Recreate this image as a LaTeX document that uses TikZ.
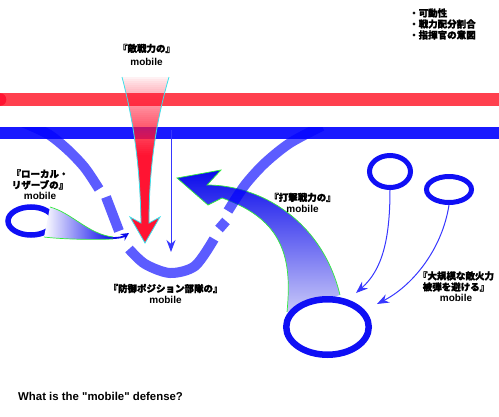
\documentclass[tikz,border=0pt]{standalone}
\usepackage{fontspec}
\setmainfont{Liberation Sans}[Ligatures=TeXOff]
\newfontfamily\jp{Noto Sans CJK JP}[FakeBold=1.6]
\usetikzlibrary{arrows.meta,shapes.geometric}
\definecolor{bandred}{RGB}{255,64,78}
\definecolor{bandblue}{RGB}{25,25,255}
\definecolor{ringblue}{RGB}{15,15,245}
\definecolor{fred}{RGB}{255,20,50}
\definecolor{edgecyan}{RGB}{60,225,235}
\definecolor{edgegreen}{RGB}{50,235,60}
\definecolor{thinblue}{RGB}{55,55,255}
\definecolor{arrblue}{RGB}{10,10,235}
\definecolor{arrlight}{RGB}{200,200,248}
\begin{document}
\begin{tikzpicture}[x=1pt,y=-1pt,
  lab/.style={font=\bfseries\fontsize{9.5}{11}\selectfont, align=center, inner sep=0pt},
  ring/.style={draw=ringblue, ellipse, inner sep=0pt},
  arcpiece/.style={draw=blue, draw opacity=0.64, line width=10pt},
  thinarrow/.style={draw=thinblue, line width=1pt, -{Stealth[length=12pt,width=9pt]}},
]
\useasboundingbox (0,0) rectangle (499,416);
% bands
\fill[bandred] (0,93) rectangle (499,106);
\fill[fred] (0,99.5) circle (6.3);
\fill[bandblue] (0,127) rectangle (499,139);

% red funnel arrow (enemy force)
\begin{scope}
  \clip (122,77) .. controls (132,115) and (140,160) .. (141,223) -- (130,217) -- (145,243) -- (160,217) -- (149,223) .. controls (149,160) and (158,115) .. (169,77) -- cycle;
  \foreach \y in {77,79,...,243} {
    \pgfmathsetmacro\op{0.03+0.97*pow(min(1,(\y+1-77)/78),0.8)}
    \fill[fred, opacity=\op] (100,\y) rectangle (200,\y+2);
  }
\end{scope}
\draw[edgecyan, line width=0.8pt] (122,77) .. controls (132,115) and (140,160) .. (141,223) -- (130,217) -- (145,243) -- (160,217) -- (149,223) .. controls (149,160) and (158,115) .. (169,77);

% big blue curved arrow (strike force)
\shade[top color=arrblue, middle color=arrblue, bottom color=arrlight]
  (177,178) -- (221,170) -- (207,185) .. controls (260,185) and (322,220) .. (340,295)
  -- (287,312) .. controls (292,260) and (285,220) .. (222,198) -- (208,205) -- cycle;
\draw[edgegreen, line width=0.7pt] (340,295) .. controls (322,220) and (260,185) .. (207,185) -- (221,170) -- (177,178) -- (208,205) -- (222,198) .. controls (285,220) and (292,260) .. (287,312);

% dashed U arc (defensive position)
\begin{scope}
  \clip (0,127) rectangle (499,416);
  \draw[arcpiece] plot[smooth] coordinates {(22,122) (48,134) (68,150) (85,168) (99,189)};
  \draw[arcpiece] (106,197) -- (119,231);
  \draw[arcpiece] plot[smooth] coordinates {(129,249) (145,264) (170,273) (195,266) (214,239)};
  \draw[arcpiece] (219,229) -- (226,221);
  \draw[arcpiece] plot[smooth] coordinates {(228,211) (245,185) (265,163) (290,143) (322,126)};
\end{scope}

% thin vertical arrow
\coordinate (vtop) at (171,130);
\coordinate (vtip) at (171,252);
\draw[thinarrow] (vtop) -- (vtip);

% left local reserve ellipse and its arrow
\node[ring, line width=5.5pt, minimum width=46pt, minimum height=28pt] (eL) at (31,221) {};
\shade[left color=white, right color=arrblue]
  (50,207) .. controls (72,213) and (88,234) .. (113,237) -- (113,239) .. controls (90,240) and (60,239) .. (44,237) -- cycle;
\draw[edgegreen, line width=0.7pt] (50,207) .. controls (72,213) and (88,234) .. (113,237);
\draw[edgegreen, line width=0.7pt] (44,237) .. controls (60,239) and (90,240) .. (113,239);
\coordinate (lt) at (113,238);
\coordinate (ltip) at (129,233);
\draw[arrblue, line width=1.8pt, -{Stealth[length=8pt,width=8pt]}] (lt) .. controls (119,238) and (123,237) .. (ltip);

% big ellipse
\node[ring, line width=6.5pt, minimum width=82.5pt, minimum height=55.5pt] (eB) at (327.5,327) {};

% small ellipses and arrows
\node[ring, line width=5pt, minimum width=41pt, minimum height=32pt] (e1) at (390,171.5) {};
\node[ring, line width=5pt, minimum width=45pt, minimum height=26pt] (e2) at (449,189.5) {};
\coordinate (t1) at (356,293);
\coordinate (t2) at (377,304);
\draw[thinarrow] (e1.south) .. controls (390,240) and (382,270) .. (t1);
\draw[thinarrow] (e2.south) .. controls (442,250) and (412,286) .. (t2);

% labels
\node[lab, anchor=west, align=left] (list) at (409,24) {\jp ・可動性\\\jp ・戦力配分割合\\\jp ・指揮官の意図};
\node[lab] (lenemy) at (146.5,54.5) {{\jp 『敵戦力の』}\\[2pt]{\fontsize{10}{11}\selectfont mobile}};
\node[lab] (lres) at (40,184.5) {{\jp 『ローカル・}\\{\jp リザーブの』}\\{\fontsize{10}{11}\selectfont mobile}};
\node[lab] (ldef) at (165.5,293.5) {{\jp 『防御ポジション部隊の』}\\{\fontsize{10}{11}\selectfont mobile}};
\node[lab] (lstrike) at (302.5,202.5) {{\jp 『打撃戦力の』}\\{\fontsize{10}{11}\selectfont mobile}};
\node[lab] (lavoid) at (456,286.5) {{\jp 『大規模な敵火力}\\{\jp 被弾を避ける』}\\{\fontsize{10}{11}\selectfont mobile}};
\node[font=\bfseries\fontsize{11.4}{13}\selectfont, anchor=west, inner sep=0pt] (title) at (18,396) {What is the "mobile" defense?};
\end{tikzpicture}
\end{document}
